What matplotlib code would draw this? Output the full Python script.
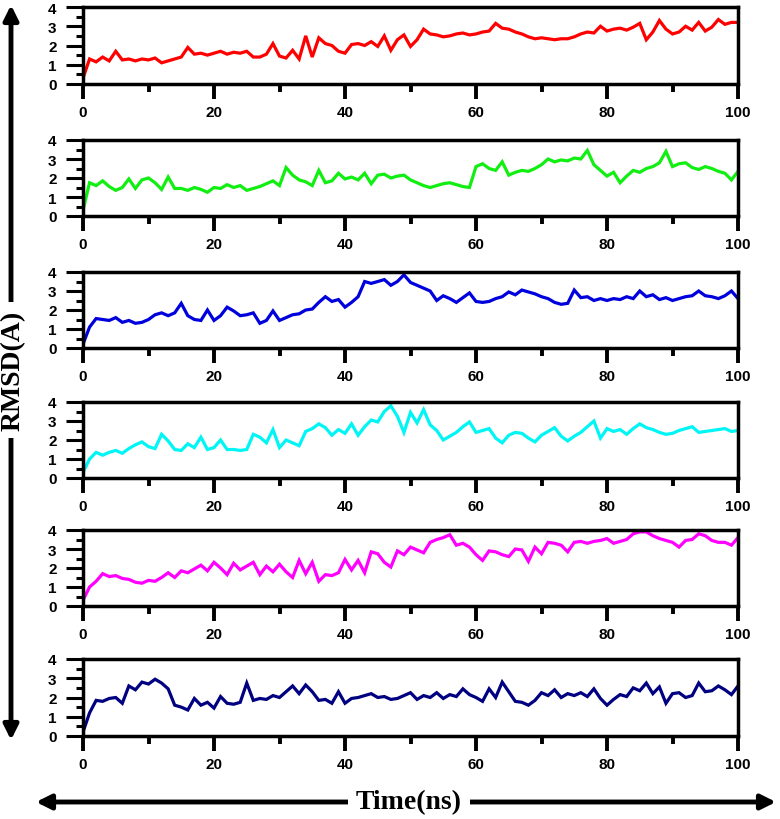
import matplotlib
matplotlib.use("Agg")
import matplotlib.pyplot as plt
from matplotlib.ticker import MultipleLocator

# time axis, 1 ns sampling
time_ns = list(range(101))

# RMSD traces (Angstrom), top panel first
rmsd_red = [0.3, 1.3, 1.15, 1.4, 1.2, 1.7, 1.25, 1.3, 1.2, 1.3, 1.25, 1.35, 1.1, 1.2, 1.3, 1.4, 1.9, 1.55, 1.6, 1.5,
            1.6, 1.7, 1.55, 1.65, 1.6, 1.7, 1.4, 1.4, 1.55, 2.1, 1.45, 1.35, 1.75, 1.3, 2.5, 1.4, 2.4, 2.1, 2.0, 1.7,
            1.6, 2.05, 2.1, 2.0, 2.2, 1.95, 2.5, 1.75, 2.3, 2.55, 1.95, 2.3, 2.85, 2.6, 2.55, 2.45, 2.5, 2.6, 2.65, 2.55,
            2.6, 2.7, 2.75, 3.15, 2.9, 2.85, 2.7, 2.6, 2.45, 2.35, 2.4, 2.35, 2.3, 2.35, 2.35, 2.45, 2.6, 2.7, 2.65, 3.0,
            2.75, 2.85, 2.9, 2.8, 2.95, 3.15, 2.3, 2.7, 3.3, 2.85, 2.6, 2.7, 3.0, 2.8, 3.2, 2.75, 2.95, 3.35, 3.1, 3.2,
            3.2]
rmsd_green = [0.3, 1.75, 1.6, 1.85, 1.55, 1.35, 1.5, 1.95, 1.45, 1.9, 2.0, 1.75, 1.4, 2.05, 1.45, 1.45, 1.35, 1.5, 1.4, 1.25,
              1.5, 1.45, 1.65, 1.5, 1.6, 1.35, 1.45, 1.55, 1.7, 1.85, 1.6, 2.55, 2.15, 1.9, 1.8, 1.6, 2.4, 1.75, 1.85, 2.25,
              1.95, 2.05, 1.9, 2.25, 1.7, 2.15, 2.2, 2.0, 2.1, 2.15, 1.9, 1.75, 1.6, 1.5, 1.6, 1.7, 1.75, 1.65, 1.55, 1.5,
              2.6, 2.75, 2.5, 2.4, 2.85, 2.15, 2.3, 2.4, 2.35, 2.5, 2.7, 3.0, 2.85, 2.95, 2.9, 3.05, 3.0, 3.45, 2.7, 2.4,
              2.1, 2.3, 1.75, 2.1, 2.4, 2.3, 2.5, 2.6, 2.8, 3.4, 2.6, 2.75, 2.8, 2.55, 2.45, 2.6, 2.5, 2.35, 2.25, 1.9,
              2.35]
rmsd_blue = [0.2, 1.1, 1.55, 1.5, 1.45, 1.6, 1.35, 1.45, 1.3, 1.35, 1.5, 1.75, 1.85, 1.7, 1.85, 2.35, 1.7, 1.5, 1.45, 2.0,
             1.45, 1.7, 2.15, 1.95, 1.7, 1.75, 1.85, 1.3, 1.45, 1.95, 1.45, 1.6, 1.75, 1.8, 2.0, 2.05, 2.4, 2.7, 2.45, 2.55,
             2.15, 2.4, 2.7, 3.5, 3.4, 3.5, 3.6, 3.3, 3.5, 3.85, 3.45, 3.3, 3.15, 3.0, 2.5, 2.75, 2.6, 2.4, 2.65, 2.9,
             2.45, 2.4, 2.45, 2.6, 2.7, 2.95, 2.8, 3.05, 2.95, 2.85, 2.7, 2.6, 2.4, 2.3, 2.35, 3.05, 2.65, 2.7, 2.5, 2.6,
             2.5, 2.6, 2.55, 2.7, 2.6, 3.0, 2.7, 2.8, 2.55, 2.65, 2.5, 2.6, 2.7, 2.75, 3.0, 2.75, 2.7, 2.6, 2.75, 3.0,
             2.6]
rmsd_cyan = [0.3, 1.0, 1.35, 1.2, 1.35, 1.45, 1.3, 1.55, 1.75, 1.9, 1.65, 1.55, 2.3, 1.95, 1.5, 1.45, 1.8, 1.6, 2.15, 1.5,
             1.6, 2.0, 1.5, 1.5, 1.45, 1.5, 2.3, 2.15, 1.85, 2.55, 1.6, 2.0, 1.85, 1.7, 2.45, 2.6, 2.85, 2.65, 2.25, 2.55,
             2.35, 2.85, 2.25, 2.7, 3.05, 2.95, 3.5, 3.8, 3.25, 2.4, 3.45, 2.9, 3.6, 2.8, 2.5, 2.0, 2.2, 2.4, 2.7, 2.95,
             2.4, 2.5, 2.6, 2.1, 1.85, 2.25, 2.4, 2.35, 2.1, 1.9, 2.25, 2.45, 2.65, 2.2, 1.95, 2.2, 2.4, 2.7, 3.0, 2.1,
             2.6, 2.45, 2.55, 2.3, 2.6, 2.85, 2.65, 2.55, 2.4, 2.3, 2.35, 2.5, 2.6, 2.7, 2.4, 2.45, 2.5, 2.55, 2.6, 2.45,
             2.5]
rmsd_magenta = [0.3, 1.0, 1.3, 1.7, 1.55, 1.6, 1.45, 1.4, 1.25, 1.2, 1.35, 1.3, 1.5, 1.75, 1.5, 1.85, 1.75, 1.95, 2.15, 1.85,
                2.3, 2.0, 1.65, 2.25, 1.9, 2.1, 2.3, 1.65, 2.1, 1.8, 2.2, 1.8, 1.5, 2.4, 1.7, 2.3, 1.3, 1.65, 1.6, 1.75,
                2.45, 1.9, 2.4, 1.75, 2.85, 2.75, 2.3, 2.05, 2.9, 2.7, 3.1, 2.95, 2.8, 3.35, 3.5, 3.6, 3.75, 3.2, 3.3, 3.1,
                2.7, 2.4, 2.9, 2.85, 2.7, 2.6, 3.0, 2.95, 2.35, 3.1, 2.75, 3.35, 3.3, 3.2, 2.85, 3.35, 3.4, 3.3, 3.4, 3.45,
                3.55, 3.3, 3.4, 3.5, 3.8, 3.9, 3.9, 3.7, 3.55, 3.45, 3.35, 3.1, 3.45, 3.5, 3.8, 3.7, 3.45, 3.35, 3.35, 3.2,
                3.6]
rmsd_navy = [0.2, 1.2, 1.85, 1.8, 1.95, 2.0, 1.7, 2.6, 2.4, 2.8, 2.7, 2.95, 2.75, 2.45, 1.6, 1.5, 1.35, 1.95, 1.6, 1.75,
             1.45, 2.05, 1.7, 1.65, 1.75, 2.75, 1.85, 1.95, 1.9, 2.1, 2.0, 2.3, 2.6, 2.2, 2.65, 2.3, 1.85, 1.9, 1.7, 2.3,
             1.7, 1.95, 2.0, 2.1, 2.2, 2.0, 2.05, 1.9, 1.95, 2.1, 2.25, 1.9, 2.1, 2.0, 2.25, 1.95, 2.15, 2.05, 2.45, 2.15,
             2.0, 1.8, 2.45, 2.0, 2.8, 2.3, 1.8, 1.75, 1.6, 1.85, 2.25, 2.1, 2.4, 2.0, 2.2, 2.1, 2.25, 2.05, 2.45, 1.95,
             1.6, 1.9, 2.15, 2.05, 2.5, 2.35, 2.75, 2.2, 2.55, 1.7, 2.2, 2.25, 2.0, 2.1, 2.75, 2.3, 2.35, 2.6, 2.4, 2.15,
             2.6]

series = [rmsd_red, rmsd_green, rmsd_blue, rmsd_cyan, rmsd_magenta, rmsd_navy]
colors = ['#ff0000', '#11ee11', '#0000dd', '#00f5f5', '#ff00ff', '#000080']

x_ticks = [0, 20, 40, 60, 80, 100]
y_ticks = [0, 1, 2, 3, 4]

W, H = 780, 820
fig = plt.figure(figsize=(W / 100, H / 100), dpi=100)

# panel top/bottom edges in pixels (from top of image)
panel_edges = [(8, 85), (141, 217), (273, 349), (403, 479), (531, 607), (660, 737)]
left_px, right_px = 83, 738

for (top, bot), y, c in zip(panel_edges, series, colors):
    ax = fig.add_axes([left_px / W, 1 - bot / H, (right_px - left_px) / W, (bot - top) / H])
    ax.plot(time_ns, y, color=c, lw=2.3, solid_joinstyle='miter')
    ax.set_xlim(0, 100)
    ax.set_ylim(0, 4)
    ax.set_xticks(x_ticks)
    ax.set_yticks(y_ticks)
    ax.xaxis.set_minor_locator(MultipleLocator(10))
    ax.yaxis.set_minor_locator(MultipleLocator(0.5))
    for s in ax.spines.values():
        s.set_linewidth(2.5)
    ax.tick_params(axis='x', which='major', length=11, width=2.8, pad=4)
    ax.tick_params(axis='x', which='minor', length=5.5, width=2.8)
    ax.tick_params(axis='y', which='major', length=12, width=2.2, pad=7)
    ax.tick_params(axis='y', which='minor', length=5, width=2.2)
    for lab in ax.get_xticklabels() + ax.get_yticklabels():
        lab.set_fontfamily('Liberation Sans')
        lab.set_fontweight('bold')
        lab.set_fontsize(11)

# overlay for the axis arrows and the two big labels, in pixel coords
ov = fig.add_axes([0, 0, 1, 1], facecolor='none')
ov.set_xlim(0, W)
ov.set_ylim(H, 0)
ov.axis('off')

arrow = dict(arrowstyle='<|-|>', lw=3.5, color='black', mutation_scale=22, shrinkA=0, shrinkB=0)
ov.annotate('', xy=(11, 6), xytext=(11, 741), arrowprops=arrow)
ov.annotate('', xy=(36, 803), xytext=(776, 803), arrowprops=arrow)

bbox = dict(facecolor='white', edgecolor='none', pad=6)
ov.text(13, 371, 'RMSD(A)', rotation=90, ha='center', va='center', fontsize=20,
        fontweight='bold', family='Liberation Serif', bbox=bbox)
ov.text(409, 803, 'Time(ns)', ha='center', va='center', fontsize=20,
        fontweight='bold', family='Liberation Serif', bbox=bbox)

fig.savefig('out.png', dpi=100)
